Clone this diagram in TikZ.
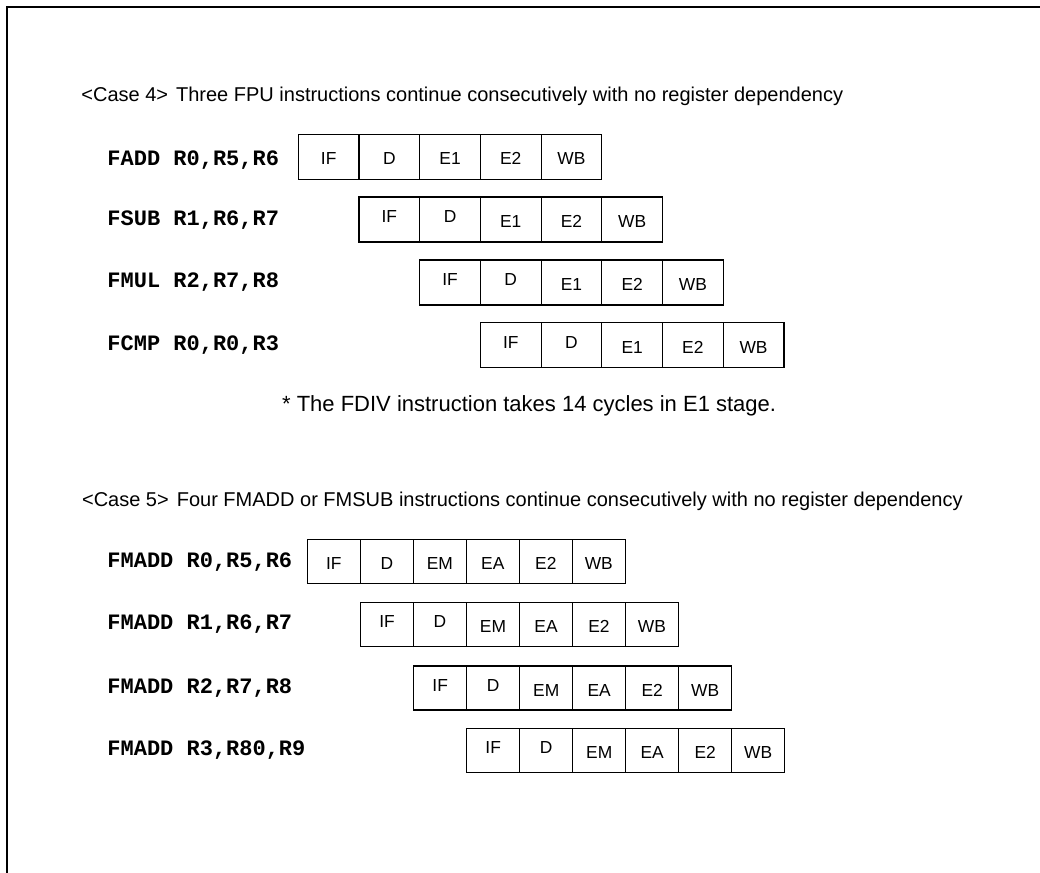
\documentclass[tikz,border=0pt]{standalone}
\usepackage{fontspec}
\setmainfont{Liberation Sans}
\newfontfamily\instrfont{Liberation Mono}
\usetikzlibrary{positioning}
\tikzset{
  stage/.style={draw, line width=0.6pt, inner sep=0pt, outer sep=0pt,
    font=\fontsize{8.7}{10}\selectfont, text height=8pt, text depth=0pt},
  stagefour/.style={stage, minimum width=30.35pt, minimum height=22.5pt},
  stagefive/.style={stage, minimum width=26.5pt, minimum height=22pt},
  stageflat/.style={},
  stageup/.style={text depth=5pt},
  instr/.style={anchor=west, inner sep=0pt, font=\instrfont\bfseries\fontsize{11}{13}\selectfont},
  caption/.style={anchor=base west, inner sep=0pt, font=\fontsize{10}{12}\selectfont}
}

\begin{document}
\begin{tikzpicture}[x=0.5pt, y=-0.5pt]
\useasboundingbox (0,0) rectangle (1040,873);
\draw[line width=1pt] (6.7,873) -- (6.7,6.7) -- (1040,6.7);

% case 4
\node[caption] (titlefour) at (81,101) {<Case 4>\hspace{4pt}Three FPU instructions continue consecutively with no register dependency};

\node[instr] (fadd) at (107,160.5) {FADD R0,R5,R6};
\node[instr] (fsub) at (107,220.5) {FSUB R1,R6,R7};
\node[instr] (fmul) at (107,282.5) {FMUL R2,R7,R8};
\node[instr] (fcmp) at (107,345)   {FCMP R0,R0,R3};

\foreach \s/\st [count=\i] in {IF/stageflat,D/stageflat,E1/stageflat,E2/stageflat,WB/stageflat}
  \node[stagefour,\st] (fadd-\i) at (298.3+60.7*\i-30.35,156.8) {\s};
\foreach \s/\st [count=\i] in {IF/stageup,D/stageup,E1/stageflat,E2/stageflat,WB/stageflat}
  \node[stagefour,\st] (fsub-\i) at (359.0+60.7*\i-30.35,219.5) {\s};
\foreach \s/\st [count=\i] in {IF/stageup,D/stageup,E1/stageflat,E2/stageflat,WB/stageflat}
  \node[stagefour,\st] (fmul-\i) at (419.7+60.7*\i-30.35,282.5) {\s};
\foreach \s/\st [count=\i] in {IF/stageup,D/stageup,E1/stageflat,E2/stageflat,WB/stageflat}
  \node[stagefour,\st] (fcmp-\i) at (480.4+60.7*\i-30.35,345.0) {\s};

\node[caption, font=\fontsize{11}{13}\selectfont] (fdivnote) at (281.7,411) {* The FDIV instruction takes 14 cycles in E1 stage.};

% case 5
\node[caption] (titlefive) at (81.7,506) {<Case 5>\hspace{4pt}Four FMADD or FMSUB instructions continue consecutively with no register dependency};

\node[instr] (fmadda) at (107,561.7) {FMADD R0,R5,R6};
\node[instr] (fmaddb) at (107,624.2) {FMADD R1,R6,R7};
\node[instr] (fmaddc) at (107,688.0) {FMADD R2,R7,R8};
\node[instr] (fmaddd) at (107,750.3) {FMADD R3,R80,R9};

\foreach \s/\st [count=\i] in {IF/stageflat,D/stageflat,EM/stageflat,EA/stageflat,E2/stageflat,WB/stageflat}
  \node[stagefive,\st] (fmadda-\i) at (307.3+53*\i-26.5,561.7) {\s};
\foreach \s/\st [count=\i] in {IF/stageup,D/stageup,EM/stageflat,EA/stageflat,E2/stageflat,WB/stageflat}
  \node[stagefive,\st] (fmaddb-\i) at (360.5+53*\i-26.5,624.2) {\s};
\foreach \s/\st [count=\i] in {IF/stageup,D/stageup,EM/stageflat,EA/stageflat,E2/stageflat,WB/stageflat}
  \node[stagefive,\st] (fmaddc-\i) at (413.7+53*\i-26.5,688.0) {\s};
\foreach \s/\st [count=\i] in {IF/stageup,D/stageup,EM/stageflat,EA/stageflat,E2/stageflat,WB/stageflat}
  \node[stagefive,\st] (fmaddd-\i) at (466.7+53*\i-26.5,750.3) {\s};
\end{tikzpicture}
\end{document}
